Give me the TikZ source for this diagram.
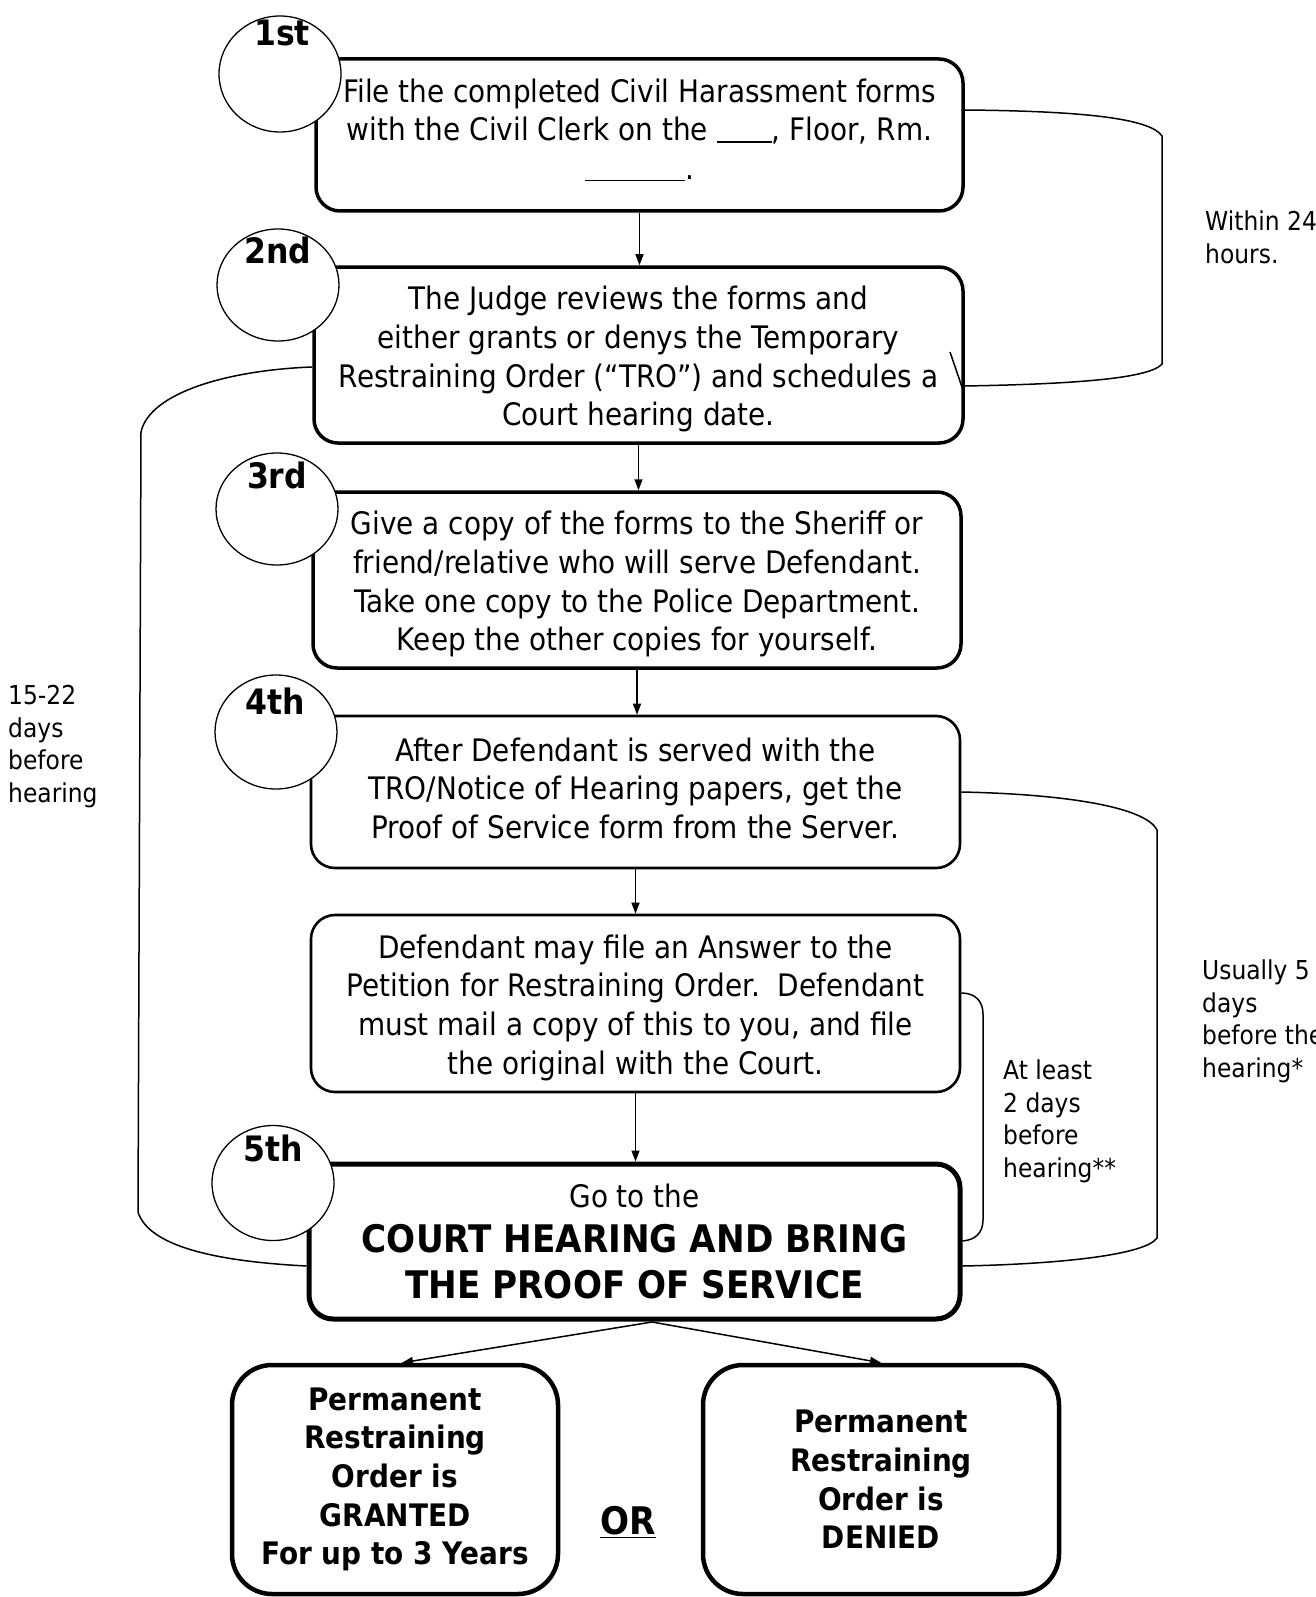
\documentclass[tikz,border=0pt]{standalone}
\usepackage{fontspec}
\setmainfont{DejaVu Sans}[FakeStretch=0.9]
\usetikzlibrary{arrows.meta,shapes.geometric}
\newcommand\topstrut{\rule{0pt}{32pt}}
\begin{document}
\begin{tikzpicture}[x=1pt,y=-1pt,
  box/.style={draw, rounded corners=24pt, align=center, inner sep=0pt, line width=3.5pt,
    font=\fontsize{31}{38.7}\selectfont},
  midbox/.style={box, line width=2.6pt},
  heavybox/.style={box, line width=5pt},
  endbox/.style={box, rounded corners=40pt, line width=4.5pt, font=\fontsize{31}{38.7}\selectfont\bfseries},
  circ/.style={draw, fill=white, ellipse, line width=1.3pt, inner sep=0pt},
  clabel/.style={font=\fontsize{35}{40}\selectfont\bfseries, inner sep=0pt},
  side/.style={align=left, anchor=north west, inner sep=0pt, font=\fontsize{26}{32.5}\selectfont},
  brk/.style={line width=1.5pt},
  arr/.style={line width=1.5pt, -{Triangle[length=11pt,width=8pt]}}
]
\useasboundingbox (0,0) rectangle (1315,1597);

% boxes
\node[box, minimum width=647pt, minimum height=152pt] (b1) at (639.5,135)
 {File the completed Civil Harassment forms\\
  with the Civil Clerk on the \rule[-2pt]{55pt}{1.5pt}, Floor, Rm.\\
  \rule[-2pt]{100pt}{1.5pt}.\rule[-12pt]{0pt}{1pt}};
\node[box, minimum width=649pt, minimum height=176pt] (b2) at (638.5,355)
 {\topstrut The Judge reviews the forms and\\
  either grants or denys the Temporary\\
  Restraining Order (“TRO”) and schedules a\\
  Court hearing date.};
\node[box, minimum width=648pt, minimum height=176pt] (b3) at (637,580)
 {\topstrut Give a copy of the forms to the Sheriff or\\
  friend/relative who will serve Defendant.\\
  Take one copy to the Police Department.\\
  Keep the other copies for yourself.};
\node[midbox, minimum width=649pt, minimum height=152pt] (b4) at (635.5,792)
 {After Defendant is served with the\\
  TRO/Notice of Hearing papers, get the\\
  Proof of Service form from the Server.\rule[-8pt]{0pt}{1pt}};
\node[midbox, minimum width=649pt, minimum height=177pt] (bd) at (635.5,1003.5)
 {\topstrut Defendant may file an Answer to the\\
  Petition for Restraining Order.\ \ Defendant\\
  must mail a copy of this to you, and file\\
  the original with the Court.};
\node[heavybox, minimum width=651pt, minimum height=155pt] (b5) at (634.5,1241.5)
 {Go to the\\[6pt]
  {\fontsize{38}{45}\selectfont\bfseries COURT HEARING AND BRING}\\[7pt]
  {\fontsize{38}{45}\selectfont\bfseries THE PROOF OF SERVICE}};
\node[endbox, minimum width=326pt, minimum height=229pt] (bg) at (395,1479.5)
 {Permanent\\Restraining\\Order is\\GRANTED\\For up to 3 Years};
\node[endbox, minimum width=356pt, minimum height=229pt] (bn) at (881,1479.5)
 {Permanent\\Restraining\\Order is\\DENIED};
\node[font=\fontsize{38}{45}\selectfont\bfseries, inner sep=0pt] (or) at (628,1522) {\underline{OR}};

% step circles
\node[circ, minimum width=122pt, minimum height=116pt] (c1) at (280,74) {};
\node[circ, minimum width=122pt, minimum height=112pt] (c2) at (278,285) {};
\node[circ, minimum width=122pt, minimum height=112pt] (c3) at (277,509) {};
\node[circ, minimum width=122pt, minimum height=114pt] (c4) at (276,732) {};
\node[circ, minimum width=122pt, minimum height=115pt] (c5) at (273,1183) {};
\node[clabel] (l1) at (282,33) {1st};
\node[clabel] (l2) at (278,250) {2nd};
\node[clabel] (l3) at (277,475) {3rd};
\node[clabel] (l4) at (275,701) {4th};
\node[clabel] (l5) at (273,1148) {5th};

% arrows
\draw[arr] (b1.south) -- (b1.south |- b2.north);
\draw[arr] (b2.south) -- (b2.south |- b3.north);
\draw[arr] (b3.south) -- (b3.south |- b4.north);
\draw[arr] (b4.south) -- (b4.south |- bd.north);
\draw[arr] (bd.south) -- (bd.south |- b5.north);
\coordinate (sp) at (652,1322);
\draw[arr] (sp) -- ([xshift=7pt]bg.north);
\draw[arr] (sp) -- (bn.north);

% brackets
\draw[brk] (b1.east |- 0,110) .. controls (1080,111) and (1150,118) .. (1162,136)
  -- (1162,364) .. controls (1150,378) and (1080,384) .. (b2.east |- 0,386);
\draw[brk] (950,352) -- (964,393);
\draw[brk] (b2.west |- 0,367) .. controls (230,370) and (150,392) .. (141,432)
  -- (138,1212) .. controls (150,1250) and (230,1262) .. (b5.west |- 0,1266);
\draw[brk] (b4.east |- 0,792) .. controls (1060,794) and (1145,806) .. (1157,830)
  -- (1157,1238) .. controls (1145,1255) and (1060,1264) .. (b5.east |- 0,1266);
\draw[brk] (bd.east |- 0,993) .. controls (975,993) and (983,1001) .. (983,1014)
  -- (983,1220) .. controls (983,1233) and (975,1240) .. (b5.east |- 0,1241);

% side labels
\node[side] (t1) at (1205,211) {Within 24\\hours.};
\node[side] (t2) at (8,685) {15-22\\days\\before\\hearing};
\node[side] (t3) at (1202,960) {Usually 5\\days\\before the\\hearing*};
\node[side] (t4) at (1003,1060) {At least\\2 days\\before\\hearing**};
\end{tikzpicture}
\end{document}
